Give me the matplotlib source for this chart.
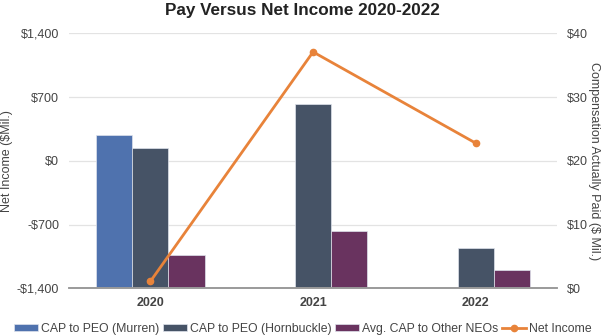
import numpy as np
import matplotlib
matplotlib.use('Agg')
import matplotlib.pyplot as plt

years = ['2020', '2021', '2022']
cap_murren = [24.0, np.nan, np.nan]
cap_hornbuckle = [22.0, 28.95, 6.25]
cap_other_neos = [5.15, 9.05, 2.8]
net_income = [-1325, 1195, 193]

left_ticks = [-1400, -700, 0, 700, 1400]
left_labels = ['-$1,400', '-$700', '$0', '$700', '$1,400']
right_ticks = [0, 10, 20, 30, 40]
right_labels = ['$0', '$10', '$20', '$30', '$40']

plt.rcParams['font.family'] = ['Liberation Sans', 'DejaVu Sans']

fig = plt.figure(figsize=(6.05, 3.36), dpi=100)
ax = fig.add_axes([0.114, 0.142, 0.807, 0.759])
ax2 = ax.twinx()

x = np.arange(len(years))
w = 0.222
ax2.bar(x - w, cap_murren, w, color='#4f72ae', edgecolor='#dfe3ec', linewidth=0.5,
        label='CAP to PEO (Murren)')
ax2.bar(x, cap_hornbuckle, w, color='#465366', edgecolor='#dfe3ec', linewidth=0.5,
        label='CAP to PEO (Hornbuckle)')
ax2.bar(x + w, cap_other_neos, w, color='#69335f', edgecolor='#dfe3ec', linewidth=0.5,
        label='Avg. CAP to Other NEOs')

ax.plot(x, net_income, color='#e8833a', linewidth=2, marker='o', markersize=4.5,
        label='Net Income')

# linje på toppen av stolpene
ax.set_zorder(ax2.get_zorder() + 1)
ax.patch.set_visible(False)

ax.set_xlim(-0.5, 2.5)
ax.set_ylim(-1400, 1400)
ax2.set_ylim(0, 40)
ax.set_yticks(left_ticks)
ax.set_yticklabels(left_labels)
ax2.set_yticks(right_ticks)
ax2.set_yticklabels(right_labels)
ax.set_xticks(x)
ax.set_xticklabels(years, fontweight='bold', fontsize=9, color='#222222')

ax2.grid(True, axis='y', color='#e3e3e3', linewidth=0.9)
ax2.set_axisbelow(True)

for a in (ax, ax2):
    for s in ['top', 'left', 'right']:
        a.spines[s].set_visible(False)
    a.spines['bottom'].set_color('#9a9a9a')
    a.spines['bottom'].set_linewidth(1.2)
    a.tick_params(length=0, labelsize=9, labelcolor='#444444')
ax.tick_params(axis='y', pad=7)
ax2.tick_params(axis='y', pad=7)
ax.tick_params(axis='x', pad=6)

ax.set_ylabel('Net Income ($Mil.)', fontsize=9, color='#444444', labelpad=3)
ax2.set_ylabel('Compensation Actually Paid ($ Mil.)', fontsize=9, color='#444444',
               rotation=-90, labelpad=9)

fig.suptitle('Pay Versus Net Income 2020-2022', fontsize=12.3, fontweight='bold',
             color='#222222', x=0.5, y=0.99)

h1, l1 = ax2.get_legend_handles_labels()
h2, l2 = ax.get_legend_handles_labels()
fig.legend(h1 + h2, l1 + l2, loc='lower center', bbox_to_anchor=(0.5, -0.03), ncol=4,
           frameon=False, fontsize=8.8, handlelength=2.0, handleheight=0.5,
           handletextpad=0.2, columnspacing=0.3, labelcolor='#444444')

fig.savefig('out.png', dpi=100)
